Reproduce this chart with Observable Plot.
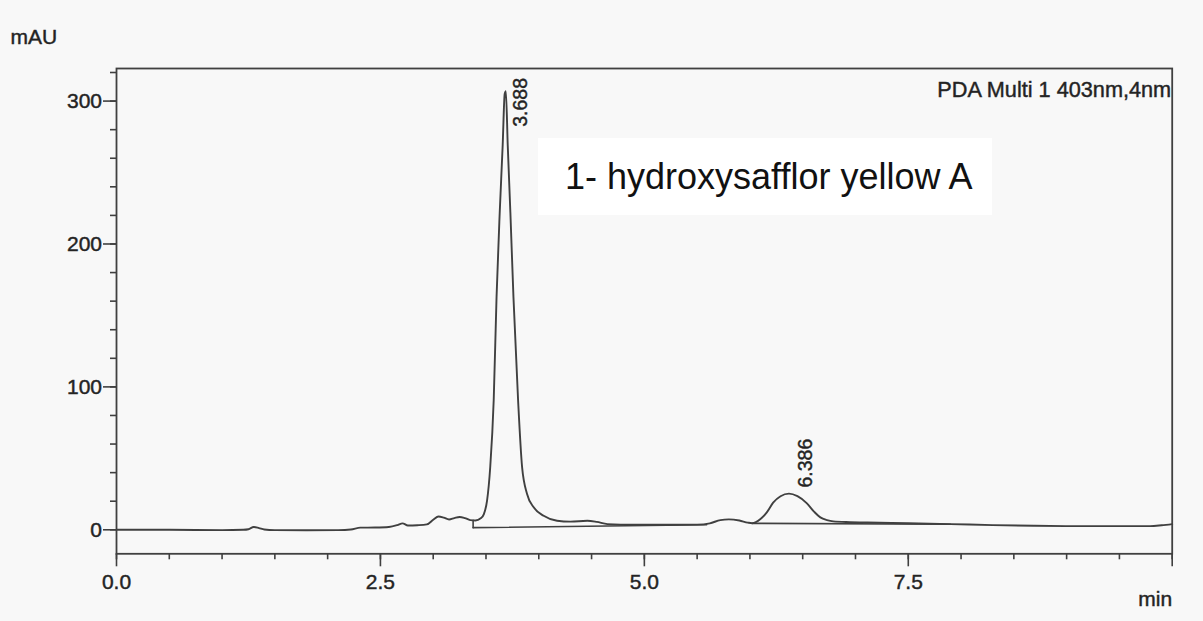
<!DOCTYPE html>
<html>
<head>
<meta charset="utf-8">
<script src="https://cdn.jsdelivr.net/npm/d3@7"></script>
<script src="https://cdn.jsdelivr.net/npm/@observablehq/plot@0.6"></script>
<style>
  html, body { margin: 0; padding: 0; background: #f8f8f8; }
  #wrap { position: relative; width: 1203px; height: 621px; overflow: hidden; background: #f8f8f8; }
  #chart svg text { stroke: #2a2a2a; stroke-width: 0.45px; }
  #note { position: absolute; left: 538px; top: 138px; width: 454px; height: 77px; background: #fff; }
  #note span { position: absolute; left: 27px; top: 18px; line-height: 36px; font: 36px "Liberation Sans", Arial, sans-serif; color: #111; white-space: nowrap; }
</style>
</head>
<body>
<div id="wrap">
  <div id="chart"></div>
  <div id="note"><span>1- hydroxysafflor yellow A</span></div>
</div>
<script>
// Retention time (min) and absorbance (mAU)
const times = [
  0.00, 0.50, 1.00, 1.20, 1.25, 1.30, 1.35, 1.40, 1.50, 1.80,
  2.10, 2.22, 2.31, 2.45, 2.58, 2.66, 2.71, 2.76, 2.85, 2.94,
  3.00, 3.05, 3.10, 3.15, 3.20, 3.25, 3.30, 3.35, 3.40, 3.45,
  3.48, 3.51, 3.54, 3.573, 3.60, 3.63, 3.658, 3.677, 3.688, 3.706,
  3.731, 3.76, 3.804, 3.842, 3.889, 3.952, 4.046, 4.173, 4.30, 4.46,
  4.55, 4.65, 4.90, 5.20, 5.50, 5.62, 5.72, 5.80, 5.90, 5.98,
  6.02, 6.10, 6.16, 6.22, 6.29, 6.37, 6.45, 6.54, 6.61, 6.667,
  6.73, 6.79, 6.95, 7.11, 7.50, 7.90, 8.30, 8.69, 9.00, 9.32,
  9.79, 9.90, 10.00
];
const signal = [
  0.0, 0.0, -0.2, 0.0, 0.4, 2.0, 1.2, 0.2, -0.2, -0.3,
  -0.2, 0.2, 1.5, 1.6, 2.0, 3.3, 4.5, 3.0, 3.2, 3.8,
  7.0, 9.3, 8.5, 7.2, 8.2, 9.0, 8.2, 6.8, 6.5, 8.0,
  11.0, 20.4, 43.8, 90.6, 163, 222, 269, 305, 307, 269,
  222, 163, 90.6, 43.8, 25.1, 15.7, 9.8, 6.3, 5.7, 6.3,
  5.5, 4.0, 3.5, 3.5, 3.6, 4.5, 6.8, 7.3, 6.5, 5.0,
  4.6, 7.5, 12.2, 19.0, 23.5, 25.3, 23.5, 18.5, 12.5, 8.7,
  6.8, 5.9, 5.4, 5.1, 4.6, 4.0, 3.3, 2.8, 2.6, 2.6,
  2.6, 3.2, 4.0
];

// Integration baselines drawn by the data system
const baseId = ["b1", "b1", "b2", "b2", "d1", "d1"];
const baseT  = [3.378, 5.59, 6.02, 7.90, 3.378, 3.378];
const baseV  = [1.5, 3.5, 4.5, 3.9, 6.6, 1.5];

// Peak labels
const peakTimes  = [3.688, 6.386];
const peakLabels = ["3.688", "6.386"];
const peakLabelAt = [282, 29.6];

// Axis ticks
const xMinorTicks = d3.range(0, 10.001, 0.5);
const xMajorTicks = [0, 2.5, 5, 7.5, 10];
const xLabelTicks = [0, 2.5, 5, 7.5];
const yMinorTicks = d3.range(0, 321, 20);
const yMajorTicks = [0, 100, 200, 300];

const trace = times.map((t, i) => ({t, v: signal[i]}));
const baselines = baseT.map((t, i) => ({id: baseId[i], t, v: baseV[i]}));
const peaks = peakTimes.map((t, i) => ({t, label: peakLabels[i], at: peakLabelAt[i]}));

const ink = "#404040";

const chart = Plot.plot({
  width: 1203,
  height: 621,
  marginLeft: 116,
  marginRight: 31.3,
  marginTop: 68,
  marginBottom: 67.7,
  x: {domain: [0, 10]},
  y: {domain: [-16.8, 322.8]},
  style: {fontFamily: "'Liberation Sans', Arial, sans-serif", fontSize: "20px", color: "#222", background: "#f8f8f8"},
  marks: [
    Plot.axisX(xMinorTicks, {tickSize: 6, text: null, label: null, stroke: ink, strokeWidth: 1.6}),
    Plot.axisX(xMajorTicks, {tickSize: 13, text: null, label: null, stroke: ink, strokeWidth: 1.6}),
    Plot.axisX(xLabelTicks, {tickSize: 0, tickPadding: 20.7, label: null, tickFormat: d => d.toFixed(1), fontSize: 21, fill: "#222"}),
    Plot.axisY(yMinorTicks, {tickSize: 6, text: null, label: null, stroke: ink, strokeWidth: 1.6}),
    Plot.axisY(yMajorTicks, {tickSize: 13, tickPadding: 1.5, label: null, fontSize: 21, fill: "#222", stroke: ink, strokeWidth: 1.6}),
    Plot.frame({stroke: ink, strokeWidth: 1.8}),
    Plot.line(baselines, {x: "t", y: "v", z: "id", stroke: ink, strokeWidth: 1.6}),
    Plot.line(trace, {x: "t", y: "v", curve: "monotone-x", stroke: ink, strokeWidth: 1.9}),
    Plot.text(peaks, {x: "t", y: "at", text: "label", rotate: -90, textAnchor: "start", dx: 15, fontSize: 19.5, fill: "#222"}),
    Plot.text(["PDA Multi 1 403nm,4nm"], {frameAnchor: "top-right", textAnchor: "end", dx: -1, dy: 13.5, fontSize: 21.7, fill: "#222"}),
    Plot.text(["mAU"], {frameAnchor: "top-left", textAnchor: "start", dx: -106, dy: -39, fontSize: 21, fill: "#222"}),
    Plot.text(["min"], {frameAnchor: "bottom-right", textAnchor: "end", dx: 0, dy: 52, fontSize: 21, fill: "#222"})
  ]
});
document.getElementById("chart").appendChild(chart);
</script>
</body>
</html>
